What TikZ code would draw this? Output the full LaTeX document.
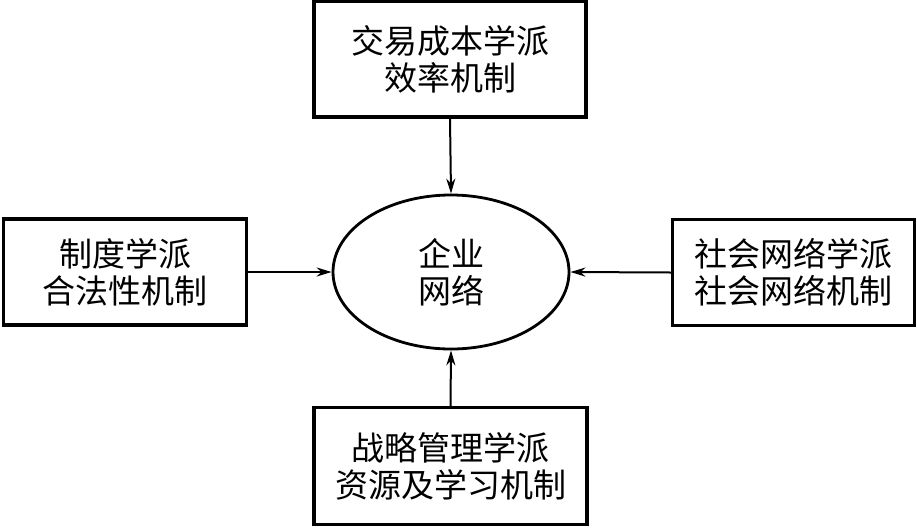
\documentclass[tikz,border=0pt]{standalone}
\usepackage{fontspec}
\newfontfamily\cjk{Noto Sans CJK SC}
\usetikzlibrary{arrows.meta,shapes.geometric}
\begin{document}
\begin{tikzpicture}[x=1pt,y=-1pt,
  txt/.style={font=\cjk\fontsize{33}{37}\selectfont,align=center},
  box/.style={draw,line width=3.2pt,inner sep=0pt,txt},
  conn/.style={line width=2pt,-{Stealth[length=15pt,width=9pt]}}]
\useasboundingbox (0,0) rectangle (917,528);
\node[box,minimum width=272,minimum height=116] (top) at (450,59) {交易成本学派\\效率机制};
\node[box,minimum width=243,minimum height=106] (left) at (125,272) {制度学派\\合法性机制};
\node[box,minimum width=242,minimum height=106] (right) at (793.5,272.5) {社会网络学派\\社会网络机制};
\node[box,minimum width=273,minimum height=117] (bot) at (450.5,466) {战略管理学派\\资源及学习机制};
\node[draw,ellipse,line width=2.8pt,minimum width=236,minimum height=154,inner sep=0pt,txt] (c) at (451,272) {企业\\网络};
\draw[conn] (top.south) -- (c.north);
\draw[conn] (left.east) -- (c.west);
\draw[conn] (right.west) -- (c.east);
\draw[conn] (bot.north) -- (c.south);
\end{tikzpicture}
\end{document}
